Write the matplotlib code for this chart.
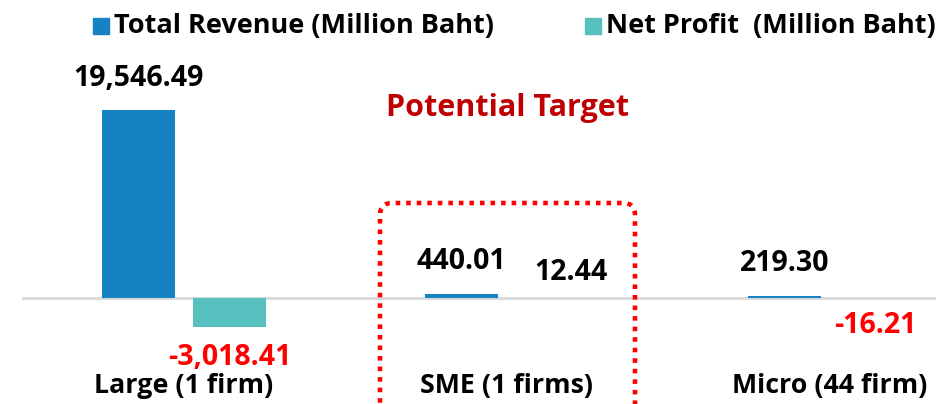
import matplotlib
matplotlib.use("Agg")
import matplotlib.pyplot as plt
from matplotlib.patches import FancyBboxPatch
from matplotlib.transforms import IdentityTransform
from matplotlib import font_manager

categories = ["Large (1 firm)", "SME (1 firms)", "Micro (44 firm)"]
revenue = [19546.49, 440.01, 219.30]
profit = [-3018.41, 12.44, -16.21]
revenue_labels = ["19,546.49", "440.01", "219.30"]
profit_labels = ["-3,018.41", "12.44", "-16.21"]
series_names = ["Total Revenue (Million Baht)", "Net Profit  (Million Baht)"]

avail = {f.name for f in font_manager.fontManager.ttflist}
fam = [f for f in ["Open Sans", "DejaVu Sans"] if f in avail]
plt.rcParams["font.family"] = fam

W, H = 937, 404
fig = plt.figure(figsize=(W / 100, H / 100), dpi=100)
ax = fig.add_axes([0, 0, 1, 1])
ax.axis("off")

# pixel mapping: category 0 center at 184 px, spacing 323 px; zero line at y=298
sx = 323.0
x0 = 184.0
ppu = 188.0 / 19546.49
ax.set_xlim(-x0 / sx, (W - x0) / sx)
ax.set_ylim(-(H - 298) / ppu, 298 / ppu)

bw = 73 / sx
off = 45.5 / sx
c_rev = "#1682C4"
c_pro = "#56C0BF"
xs = list(range(len(categories)))
ax.bar([x - off for x in xs], revenue, width=bw, color=c_rev, zorder=3)
ax.bar([x + off for x in xs], profit, width=bw, color=c_pro, zorder=3)
ax.plot([-0.5, 3], [0, 0], color="#D9D9D9", lw=2, zorder=2)

fs_val = 20.5
for i, (v, lab) in enumerate(zip(revenue, revenue_labels)):
    ax.annotate(lab, (i - off, v), xytext=(0, 23), textcoords="offset points",
                ha="center", va="center", fontsize=fs_val, fontweight="bold", color="black")
pro_off = [(0, -22), (13, 18), (0, -20)]
for i, (v, lab) in enumerate(zip(profit, profit_labels)):
    col = "red" if v < 0 else "black"
    ax.annotate(lab, (i + off, v), xytext=pro_off[i], textcoords="offset points",
                ha="center", va="center", fontsize=fs_val, fontweight="bold", color=col)

for i, c in enumerate(categories):
    ax.text(i, -(386 - 298) / ppu, c, ha="center", va="center", fontsize=19.3,
            fontweight="bold", color="black")

ax.text(508 / W, 1 - 108 / H, "Potential Target", transform=fig.transFigure,
        ha="center", va="center", fontsize=22, fontweight="bold", color="#C00000")

# legend
leg_items = [(93, c_rev, series_names[0]), (585, c_pro, series_names[1])]
for px, col, name in leg_items:
    fig.patches.append(plt.Rectangle((px / W, 1 - 34 / H), 16 / W, 16 / H,
                                     transform=fig.transFigure, color=col))
    fig.text((px + 21) / W, 1 - 26 / H, name, ha="left", va="center", fontsize=19.5,
             fontweight="bold", color="black")

box = FancyBboxPatch((380, -30), 255, H - 203 + 30, boxstyle="round,pad=0,rounding_size=12",
                     transform=IdentityTransform(), fill=False, edgecolor="#FF0000",
                     linewidth=3.3, linestyle=(0, (1, 1.3)), zorder=5)
fig.patches.append(box)

fig.savefig("out.png", dpi=100)
